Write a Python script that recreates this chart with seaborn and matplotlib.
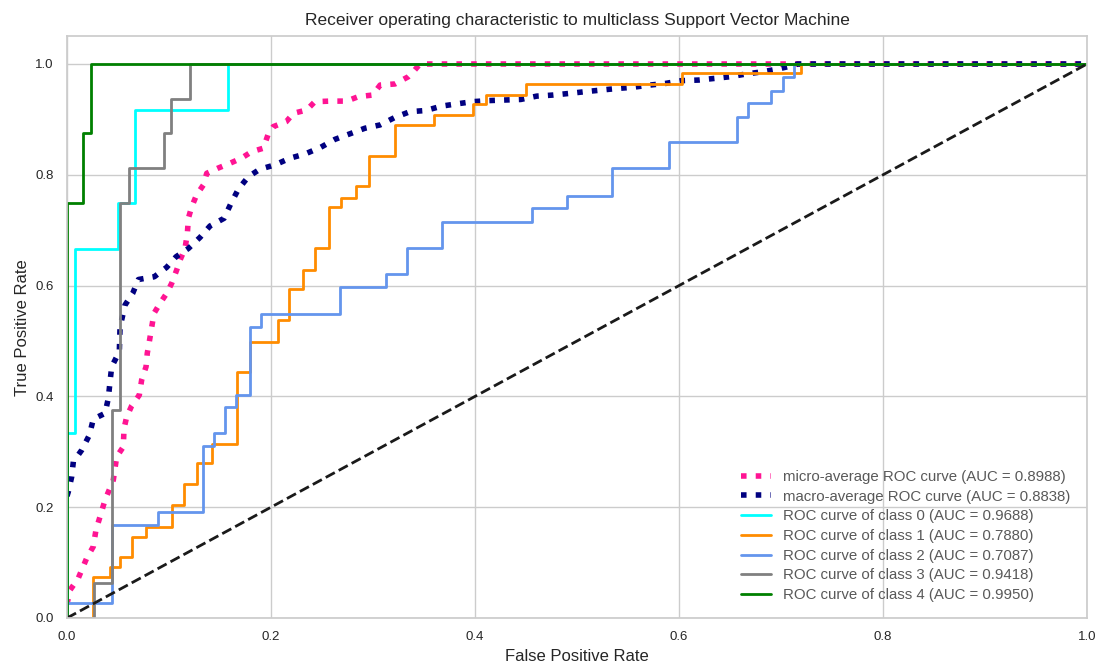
import matplotlib
matplotlib.use("Agg")
import matplotlib.pyplot as plt
import seaborn as sns

# ---- ROC data (corner points of each curve) ----
fpr_micro = [0.0, 0.003, 0.011, 0.0193, 0.0258, 0.0284, 0.0324, 0.0373, 0.0454, 0.0487,
             0.0552, 0.0559, 0.0585, 0.0634, 0.0709, 0.0732, 0.0775, 0.0787, 0.0807,
             0.0853, 0.0912, 0.0977, 0.1026, 0.1075, 0.1108, 0.1157, 0.118, 0.119,
             0.1222, 0.127, 0.1337, 0.137, 0.148, 0.16, 0.171, 0.181, 0.1925, 0.197,
             0.2023, 0.215, 0.222, 0.235, 0.243, 0.258, 0.274, 0.2856, 0.2997, 0.307,
             0.3216, 0.3346, 0.3395, 0.346, 1.0]
tpr_micro = [0.025, 0.0505, 0.0716, 0.108, 0.129, 0.159, 0.183, 0.213, 0.249, 0.291,
             0.309, 0.342, 0.363, 0.383, 0.4025, 0.4296, 0.4536, 0.478, 0.4988,
             0.55, 0.568, 0.586, 0.604, 0.628, 0.646, 0.667, 0.694, 0.7215,
             0.742, 0.7635, 0.7816, 0.8027, 0.812, 0.821, 0.83, 0.8417, 0.848, 0.872,
             0.887, 0.896, 0.911, 0.917, 0.932, 0.933, 0.933, 0.941, 0.944, 0.962,
             0.964, 0.977, 0.986, 1.0, 1.0]

fpr_macro = [0.0, 0.0013, 0.0046, 0.0062, 0.0144, 0.0219, 0.0258, 0.0373, 0.0405, 0.0422,
             0.0438, 0.0513, 0.052, 0.0569, 0.0644, 0.07, 0.0856, 0.0977, 0.1069,
             0.119, 0.1304, 0.1402, 0.154, 0.1608, 0.168, 0.1778, 0.189, 0.204,
             0.2186, 0.2333, 0.2487, 0.2627, 0.2768, 0.292, 0.3069, 0.3216, 0.3363,
             0.3516, 0.3673, 0.382, 0.3977, 0.414, 0.4294, 0.4448, 0.4605, 0.4768,
             0.493, 0.5078, 0.524, 0.5405, 0.555, 0.5716, 0.587, 0.6026, 0.619,
             0.635, 0.65, 0.666, 0.682, 0.697, 0.7137, 0.716, 1.0]
tpr_macro = [0.22, 0.228, 0.255, 0.282, 0.303, 0.330, 0.359, 0.3695, 0.3966, 0.4266,
             0.4536, 0.4807, 0.525, 0.565, 0.586, 0.611, 0.616, 0.633, 0.652,
             0.667, 0.687, 0.7076, 0.7215, 0.7486, 0.774, 0.7966, 0.81, 0.818,
             0.83, 0.8375, 0.8496, 0.864, 0.8736, 0.884, 0.890, 0.9037, 0.914,
             0.916, 0.924, 0.928, 0.932, 0.934, 0.935, 0.936, 0.942, 0.944,
             0.947, 0.950, 0.953, 0.956, 0.958, 0.962, 0.965, 0.970, 0.971,
             0.974, 0.977, 0.982, 0.986, 0.991, 0.998, 1.0, 1.0]

fpr_0 = [0.0, 0.0, 0.0078, 0.0078, 0.0503, 0.0503, 0.0667, 0.0667, 0.158, 0.158, 1.0]
tpr_0 = [0.0, 0.3333, 0.3333, 0.6667, 0.6667, 0.75, 0.75, 0.9167, 0.9167, 1.0, 1.0]

fpr_1 = [0.0, 0.0258, 0.0258, 0.0422, 0.0422, 0.052, 0.052, 0.0634, 0.0634, 0.0775,
         0.0775, 0.1026, 0.1026, 0.1147, 0.1147, 0.1278, 0.1278, 0.1418, 0.1418,
         0.1663, 0.1663, 0.179, 0.179, 0.207, 0.207, 0.218, 0.218, 0.231, 0.231,
         0.243, 0.243, 0.257, 0.257, 0.269, 0.269, 0.283, 0.283, 0.296, 0.296,
         0.3216, 0.3216, 0.360, 0.360, 0.398, 0.398, 0.411, 0.411, 0.45, 0.45,
         0.6026, 0.6026, 0.720, 0.720, 1.0]
tpr_1 = [0.0, 0.0, 0.0746, 0.0746, 0.0926, 0.0926, 0.1107, 0.1107, 0.1468, 0.1468,
         0.165, 0.165, 0.204, 0.204, 0.241, 0.241, 0.279, 0.279, 0.3135,
         0.3135, 0.4446, 0.4446, 0.4988, 0.4988, 0.538, 0.538, 0.593, 0.593, 0.629,
         0.629, 0.667, 0.667, 0.742, 0.742, 0.759, 0.759, 0.779, 0.779, 0.834,
         0.834, 0.889, 0.889, 0.908, 0.908, 0.928, 0.928, 0.944, 0.944, 0.964,
         0.964, 0.983, 0.983, 1.0, 1.0]

fpr_2 = [0.0, 0.0, 0.0438, 0.0438, 0.0895, 0.0895, 0.133, 0.133, 0.144, 0.144,
         0.155, 0.155, 0.166, 0.166, 0.179, 0.179, 0.19, 0.19, 0.2676, 0.2676,
         0.3127, 0.3127, 0.3336, 0.3336, 0.368, 0.368, 0.4556, 0.4556, 0.4905,
         0.4905, 0.534, 0.534, 0.5905, 0.5905, 0.6565, 0.6565, 0.668, 0.668,
         0.690, 0.690, 0.7016, 0.7016, 0.7127, 0.7127, 1.0]
tpr_2 = [0.0, 0.0265, 0.0265, 0.168, 0.168, 0.191, 0.191, 0.311, 0.311, 0.3345,
         0.3345, 0.381, 0.381, 0.4025, 0.4025, 0.525, 0.525, 0.549, 0.549, 0.597,
         0.597, 0.621, 0.621, 0.667, 0.667, 0.715, 0.715, 0.7395, 0.7395,
         0.762, 0.762, 0.812, 0.812, 0.8586, 0.8586, 0.905, 0.905, 0.930,
         0.930, 0.952, 0.952, 0.976, 0.976, 1.0, 1.0]

fpr_3 = [0.0, 0.026, 0.026, 0.0438, 0.0438, 0.052, 0.052, 0.061, 0.061, 0.0954,
         0.0954, 0.102, 0.102, 0.1206, 0.1206, 1.0]
tpr_3 = [0.0, 0.0, 0.0625, 0.0625, 0.375, 0.375, 0.75, 0.75, 0.8125, 0.8125,
         0.875, 0.875, 0.9375, 0.9375, 1.0, 1.0]

fpr_4 = [0.0, 0.0, 0.0154, 0.0154, 0.0235, 0.0235, 1.0]
tpr_4 = [0.0, 0.75, 0.75, 0.875, 0.875, 1.0, 1.0]

auc_micro, auc_macro = 0.8988, 0.8838
class_auc = [0.9688, 0.7880, 0.7087, 0.9418, 0.9950]
class_colors = ["aqua", "darkorange", "cornflowerblue", "gray", "green"]
class_fpr = [fpr_0, fpr_1, fpr_2, fpr_3, fpr_4]
class_tpr = [tpr_0, tpr_1, tpr_2, tpr_3, tpr_4]

# ---- styling ----
sns.set_theme(style="whitegrid")
plt.rcParams["font.family"] = ["Liberation Sans", "DejaVu Sans"]

fig = plt.figure(figsize=(11, 6.64), dpi=100)
ax = fig.add_axes([67 / 1100, 1 - 618 / 664, 1020 / 1100, 581.7 / 664])

sns.lineplot(x=fpr_micro, y=tpr_micro, sort=False, estimator=None, ax=ax,
             color="deeppink", linestyle=":", linewidth=4,
             label=f"micro-average ROC curve (AUC = {auc_micro:.4f})")
sns.lineplot(x=fpr_macro, y=tpr_macro, sort=False, estimator=None, ax=ax,
             color="navy", linestyle=":", linewidth=4,
             label=f"macro-average ROC curve (AUC = {auc_macro:.4f})")

for i, (fx, ty, col, auc) in enumerate(zip(class_fpr, class_tpr, class_colors, class_auc)):
    sns.lineplot(x=fx, y=ty, sort=False, estimator=None, ax=ax,
                 color=col, linewidth=2,
                 label=f"ROC curve of class {i} (AUC = {auc:.4f})")

sns.lineplot(x=[0, 1], y=[0, 1], sort=False, estimator=None, ax=ax,
             color="k", linestyle="--", linewidth=2)

ax.set_xlim(0.0, 1.0)
ax.set_ylim(0.0, 1.05)
ax.set_xticks([0.0, 0.2, 0.4, 0.6, 0.8, 1.0])
ax.set_yticks([0.0, 0.2, 0.4, 0.6, 0.8, 1.0])
ax.tick_params(labelsize=9.5)
ax.set_xlabel("False Positive Rate", fontsize=12)
ax.set_ylabel("True Positive Rate", fontsize=12)
ax.set_title("Receiver operating characteristic to multiclass Support Vector Machine",
             fontsize=12.5, pad=8)

leg = ax.legend(loc="lower right", bbox_to_anchor=(0.997, 0.004), frameon=False,
                fontsize=10.8, labelspacing=0.38)
for t in leg.get_texts():
    t.set_color("0.35")

fig.savefig("out.png", dpi=100)
